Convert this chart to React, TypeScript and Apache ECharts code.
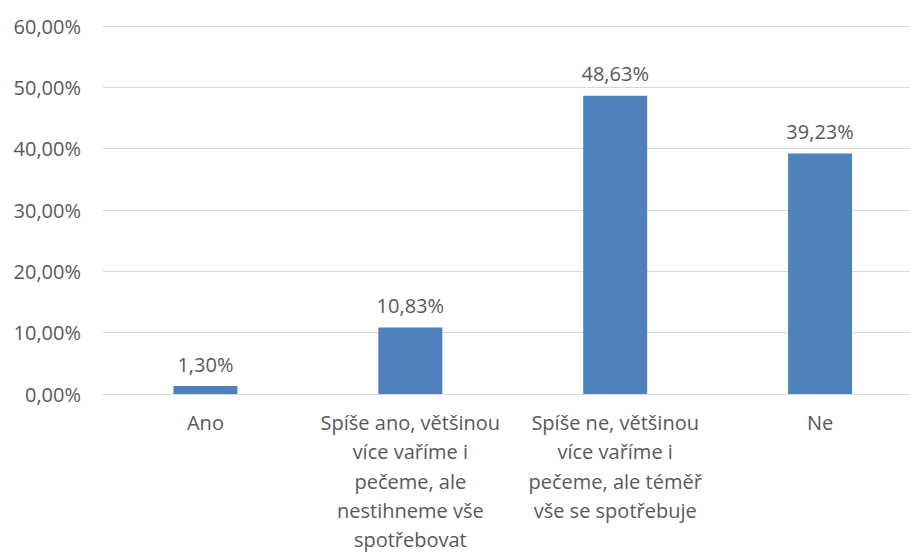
import React, { useEffect, useRef } from "react";
import * as echarts from "echarts";

const categories: string[] = [
  "Ano",
  "Spíše ano, většinou\nvíce vaříme i\npečeme, ale\nnestihneme vše\nspotřebovat",
  "Spíše ne, většinou\nvíce vaříme i\npečeme, ale téměř\nvše se spotřebuje",
  "Ne",
];
const values: number[] = [1.3, 10.83, 48.63, 39.23];
const yTicks = { min: 0, max: 60, interval: 10 };

const fmt = (v: number) => v.toFixed(2).replace(".", ",") + "%";
const FONT = "Open Sans";
const TEXT = "#595959";

export default function App() {
  const ref = useRef<HTMLDivElement>(null);
  useEffect(() => {
    if (!ref.current) return;
    const chart = echarts.init(ref.current, undefined, { renderer: "svg" });
    chart.setOption({
      animation: false,
      backgroundColor: "#ffffff",
      grid: {
        left: 103,
        right: -12.5,
        top: 26,
        bottom: 158,
        containLabel: false,
        outerBoundsMode: "none",
      },
      xAxis: {
        type: "category",
        data: categories,
        axisLine: { show: true, lineStyle: { color: "#D9D9D9", width: 1 } },
        axisTick: { show: false },
        axisLabel: {
          interval: 0,
          margin: 14,
          color: TEXT,
          fontFamily: FONT,
          fontSize: 20,
          lineHeight: 29.2,
          align: "center",
        },
      },
      yAxis: {
        type: "value",
        min: yTicks.min,
        max: yTicks.max,
        interval: yTicks.interval,
        axisLine: { show: false },
        axisTick: { show: false },
        splitLine: { show: true, lineStyle: { color: "#D9D9D9", width: 1 } },
        axisLabel: {
          margin: 22,
          color: TEXT,
          fontFamily: FONT,
          fontSize: 20,
          formatter: (v: number) => fmt(v),
        },
      },
      series: [
        {
          type: "bar",
          data: values,
          barWidth: 64,
          itemStyle: { color: "#4F81BD" },
          label: {
            show: true,
            position: "top",
            distance: 12,
            color: TEXT,
            fontFamily: FONT,
            fontSize: 20,
            formatter: (p: any) => fmt(p.value),
          },
        },
      ],
    });
    return () => chart.dispose();
  }, []);
  return (
    <div
      ref={ref}
      style={{ position: "fixed", left: 0, top: 0, width: 910, height: 552 }}
    />
  );
}
